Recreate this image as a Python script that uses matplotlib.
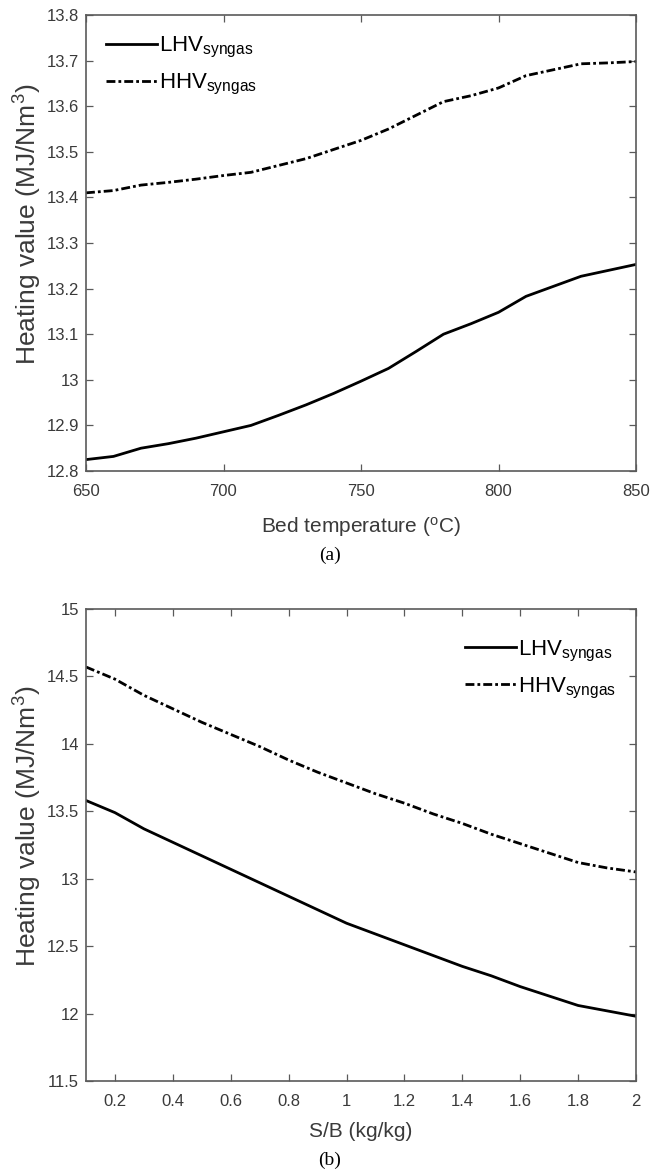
import matplotlib
matplotlib.use("Agg")
import matplotlib.pyplot as plt
import numpy as np

plt.rcParams['font.family'] = ['Liberation Sans', 'DejaVu Sans']
plt.rcParams['mathtext.fontset'] = 'custom'
plt.rcParams['mathtext.rm'] = 'Liberation Sans'
plt.rcParams['mathtext.it'] = 'Liberation Sans:italic'
plt.rcParams['mathtext.bf'] = 'Liberation Sans:bold'

# ---- data (a) ----
temp = [650, 660, 670, 680, 690, 700, 710, 720, 730, 740, 750,
        760, 770, 780, 790, 800, 810, 820, 830, 840, 850]
lhv_a = [12.825, 12.832, 12.850, 12.860, 12.872, 12.886, 12.900, 12.922, 12.945, 12.970, 12.997,
         13.025, 13.062, 13.100, 13.123, 13.148, 13.183, 13.205, 13.227, 13.240, 13.253]
hhv_a = [13.410, 13.415, 13.427, 13.433, 13.440, 13.448, 13.455, 13.470, 13.485, 13.505, 13.525,
         13.550, 13.580, 13.610, 13.623, 13.640, 13.667, 13.680, 13.693, 13.695, 13.698]

# ---- data (b) ----
sb = [0.1, 0.2, 0.3, 0.4, 0.5, 0.6, 0.7, 0.8, 0.9, 1.0,
      1.1, 1.2, 1.3, 1.4, 1.5, 1.6, 1.7, 1.8, 1.9, 2.0]
lhv_b = [13.58, 13.49, 13.37, 13.27, 13.17, 13.07, 12.97, 12.87, 12.77, 12.67,
         12.59, 12.51, 12.43, 12.35, 12.28, 12.20, 12.13, 12.06, 12.02, 11.98]
hhv_b = [14.57, 14.48, 14.36, 14.26, 14.16, 14.07, 13.98, 13.88, 13.79, 13.71,
         13.63, 13.56, 13.48, 13.41, 13.33, 13.26, 13.19, 13.12, 13.08, 13.05]

yticks_a = [12.8, 12.9, 13.0, 13.1, 13.2, 13.3, 13.4, 13.5, 13.6, 13.7, 13.8]
ytick_labels_a = ['12.8', '12.9', '13', '13.1', '13.2', '13.3', '13.4', '13.5', '13.6', '13.7', '13.8']
xticks_a = [650, 700, 750, 800, 850]
yticks_b = [11.5, 12, 12.5, 13, 13.5, 14, 14.5, 15]
ytick_labels_b = ['11.5', '12', '12.5', '13', '13.5', '14', '14.5', '15']
xticks_b = [0.2, 0.4, 0.6, 0.8, 1.0, 1.2, 1.4, 1.6, 1.8, 2.0]
xtick_labels_b = ['0.2', '0.4', '0.6', '0.8', '1', '1.2', '1.4', '1.6', '1.8', '2']

W, H = 662, 1169
fig = plt.figure(figsize=(W / 100, H / 100), dpi=100)

def px_axes(l, r, t, b):
    return fig.add_axes([l / W, 1 - b / H, (r - l) / W, (b - t) / H])

axc = '#5a5a5a'
txtc = '#3a3a3a'
dash = (3.2, 1.1, 1.0, 1.1)
ylab = 'Heating value (MJ/Nm$^{3}$)'

def style(ax):
    for s in ax.spines.values():
        s.set_color(axc)
        s.set_linewidth(1.2)
    ax.tick_params(direction='in', top=True, right=True, length=5, width=0.9,
                   colors=axc, labelcolor=txtc, labelsize=12)
    ax.tick_params(axis='x', pad=9)
    ax.tick_params(axis='y', pad=5)

ax1 = px_axes(86, 636, 15, 471)
ax1.plot(temp, lhv_a, color='black', lw=2.0, label='LHV$_{\\mathrm{syngas}}$')
ax1.plot(temp, hhv_a, color='black', lw=2.0, dashes=dash, label='HHV$_{\\mathrm{syngas}}$')
ax1.set_xlim(650, 850)
ax1.set_ylim(12.8, 13.8)
ax1.set_xticks(xticks_a)
ax1.set_yticks(yticks_a)
ax1.set_yticklabels(ytick_labels_a)
style(ax1)
ax1.set_xlabel('Bed temperature ($^{\\mathrm{o}}$C)', fontsize=15, color=txtc, labelpad=12)
ax1.set_ylabel(ylab, fontsize=19, color=txtc, va='center')
ax1.yaxis.set_label_coords(-0.105, 0.54)
ax1.legend(loc='upper left', frameon=False, fontsize=16, handlelength=2.3,
           handletextpad=0.1, labelspacing=0.55, bbox_to_anchor=(0.0, 1.0))

ax2 = px_axes(86, 636, 609, 1081)
ax2.plot(sb, lhv_b, color='black', lw=2.0, label='LHV$_{\\mathrm{syngas}}$')
ax2.plot(sb, hhv_b, color='black', lw=2.0, dashes=dash, label='HHV$_{\\mathrm{syngas}}$')
ax2.set_xlim(0.1, 2.0)
ax2.set_ylim(11.5, 15)
ax2.set_xticks(xticks_b)
ax2.set_xticklabels(xtick_labels_b)
ax2.set_yticks(yticks_b)
ax2.set_yticklabels(ytick_labels_b)
style(ax2)
ax2.set_xlabel('S/B (kg/kg)', fontsize=15, color=txtc, labelpad=10)
ax2.set_ylabel(ylab, fontsize=19, color=txtc, va='center')
ax2.yaxis.set_label_coords(-0.105, 0.54)
ax2.legend(loc='upper right', frameon=False, fontsize=16, handlelength=2.3,
           handletextpad=0.1, labelspacing=0.55, bbox_to_anchor=(1.0, 0.98))

fig.text(330 / W, 1 - 555 / H, '(a)', ha='center', va='center', fontsize=14,
         family=['Liberation Serif', 'DejaVu Serif'], color='black')
fig.text(330 / W, 1 - 1160 / H, '(b)', ha='center', va='center', fontsize=14,
         family=['Liberation Serif', 'DejaVu Serif'], color='black')

fig.savefig('out.png', dpi=100)
